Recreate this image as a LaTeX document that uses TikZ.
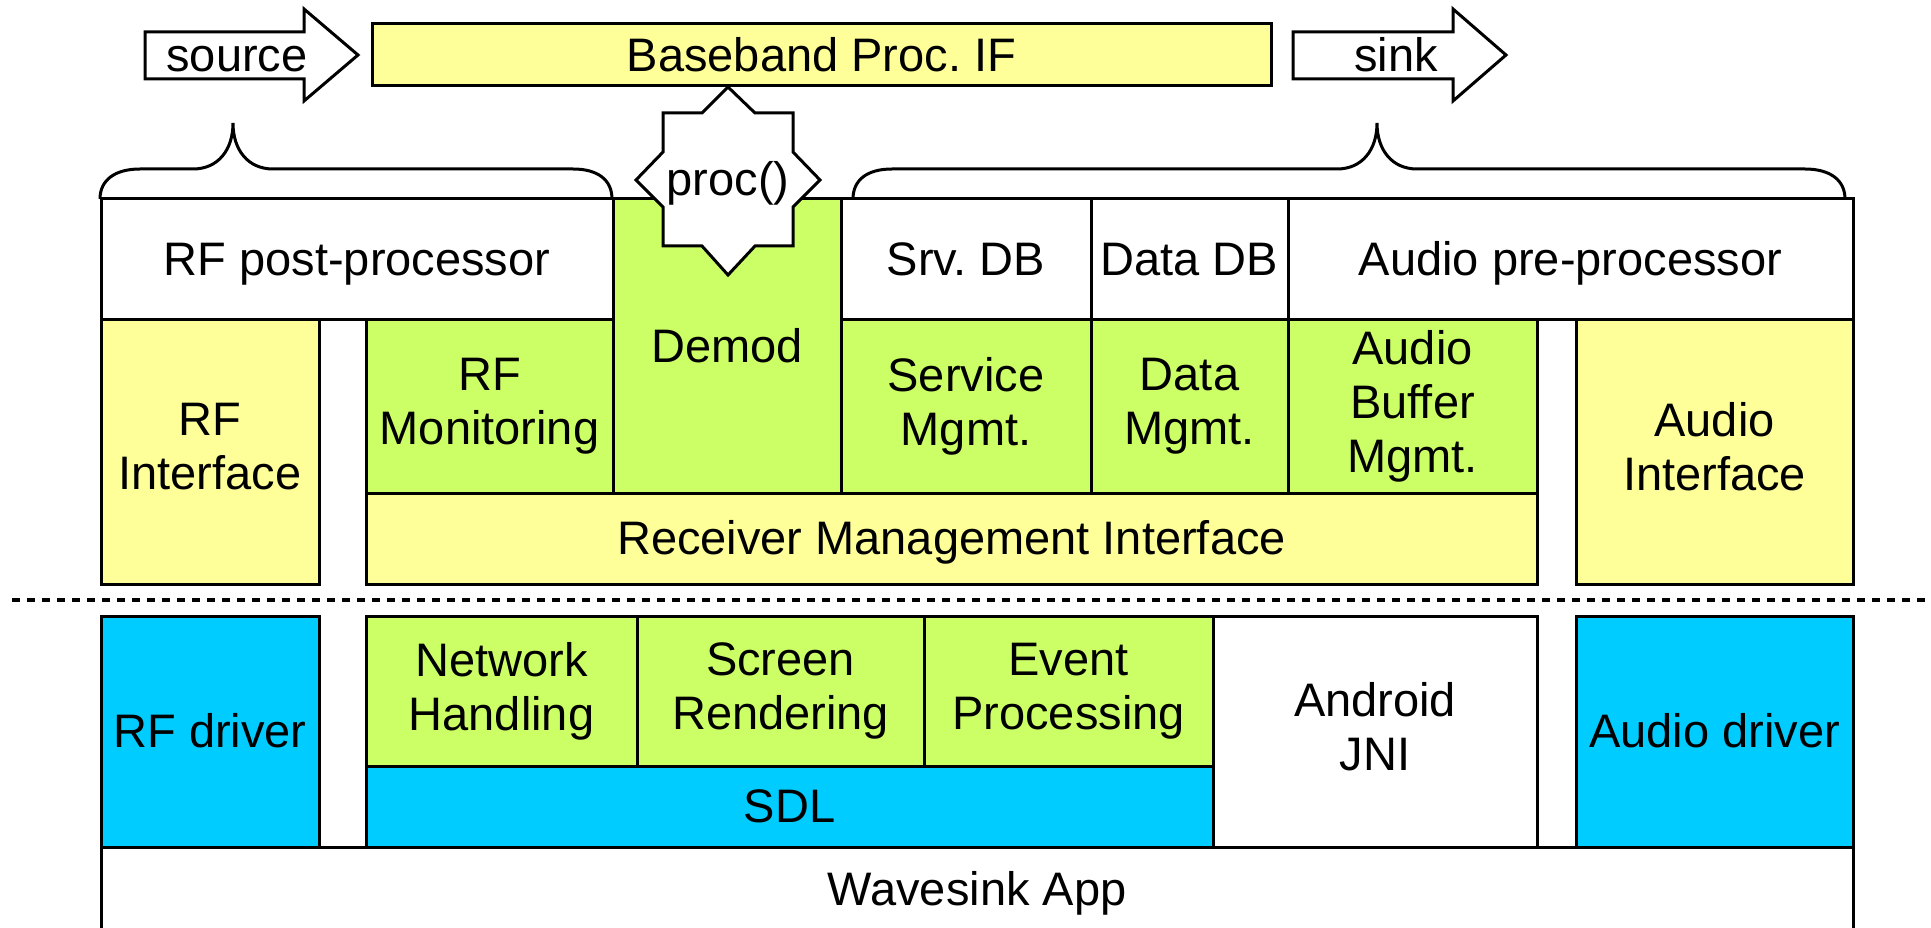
\documentclass[tikz,border=0pt]{standalone}
\usepackage{fontspec}
\setmainfont{Liberation Sans}
\definecolor{ifyellow}{HTML}{FFFF99}
\definecolor{modgreen}{HTML}{CCFF66}
\definecolor{drvblue}{HTML}{00CCFF}
% full line height for box labels
\newcommand{\lnstrut}{\rule[-0.212em]{0pt}{1.117em}}
\tikzset{
  blk/.style={draw, line width=3pt, anchor=north west, inner sep=0pt, outer sep=0pt, align=center,
    execute at begin node=\lnstrut, execute at end node=\lnstrut},
  ifblk/.style={blk, fill=ifyellow},
  modblk/.style={blk, fill=modgreen},
  drvblk/.style={blk, fill=drvblue},
  plainblk/.style={blk, fill=white},
  outl/.style={line width=3pt, line join=miter}
}
\frenchspacing
\begin{document}
\begin{tikzpicture}[x=1pt,y=-1pt,font=\fontsize{47}{54}\selectfont]
\useasboundingbox (0,0) rectangle (1931,928);

% receiver layer
\node[plainblk, minimum width=512, minimum height=120] (rfpost) at (101,199) {RF post-processor};
\node[modblk, minimum width=228, minimum height=294] (demod) at (613,199) {Demod};
\node[plainblk, minimum width=250, minimum height=120] (srvdb) at (841,199) {Srv. DB};
\node[plainblk, minimum width=197, minimum height=120] (datadb) at (1091,199) {Data DB};
\node[plainblk, minimum width=565, minimum height=120] (audpre) at (1288,199) {Audio pre-processor};
\node[ifblk, minimum width=218, minimum height=265] (rfif) at (101,319) {RF\\Interface};
\node[modblk, minimum width=247, minimum height=174] (rfmon) at (366,319) {RF\\Monitoring};
\node[modblk, minimum width=250, minimum height=174] (srvmgmt) at (841,319) {Service\\Mgmt.};
\node[modblk, minimum width=197, minimum height=174] (datamgmt) at (1091,319) {Data\\Mgmt.};
\node[modblk, minimum width=249, minimum height=174] (audbuf) at (1288,319) {Audio\\Buffer\\Mgmt.};
\node[ifblk, minimum width=277, minimum height=265] (audif) at (1576,319) {Audio\\Interface};
\node[ifblk, minimum width=1171, minimum height=91] (rmi) at (366,493) {Receiver Management Interface};

% separator
\draw[line width=3.5pt, dash pattern=on 8pt off 7pt] (12,600) -- (1931,600);

% app layer
\node[drvblk, minimum width=218, minimum height=231] (rfdrv) at (101,616) {RF driver};
\node[modblk, minimum width=271, minimum height=150] (net) at (366,616) {Network\\Handling};
\node[modblk, minimum width=287, minimum height=150] (screen) at (637,616) {Screen\\Rendering};
\node[modblk, minimum width=289, minimum height=150] (event) at (924,616) {Event\\Processing};
\node[drvblk, minimum width=847, minimum height=81] (sdl) at (366,766) {SDL};
\node[plainblk, minimum width=324, minimum height=231] (jni) at (1213,616) {Android\\JNI};
\node[drvblk, minimum width=277, minimum height=231] (auddrv) at (1576,616) {Audio driver};
\draw[outl, fill=white] (101,940) -- (101,847) -- (1853,847) -- (1853,940);
\node[anchor=base] (app) at (977,905) {Wavesink App};

% source / sink arrows and baseband interface
\draw[outl, fill=white] (145,32) -- (304,32) -- (304,9) -- (358,55) -- (304,101) -- (304,79) -- (145,79) -- cycle;
\node[anchor=base] (source) at (237,72) {source};
\node[ifblk, minimum width=899, minimum height=62] (bbif) at (372,24) {Baseband Proc. IF};
\draw[outl, fill=white] (1293,32) -- (1453,32) -- (1453,9) -- (1506,55) -- (1453,101) -- (1453,79) -- (1293,79) -- cycle;
\node[anchor=base] (sink) at (1396,72) {sink};

% braces
\draw[line width=3pt] (100,199) .. controls (100,180) and (115,169) .. (140,169) -- (193,169)
  .. controls (218,169) and (233,150) .. (233,123) .. controls (233,150) and (248,169) .. (273,169)
  -- (573,169) .. controls (598,169) and (612,180) .. (612,199);
\draw[line width=3pt] (853,199) .. controls (853,180) and (867,169) .. (892,169) -- (1337,169)
  .. controls (1362,169) and (1377,150) .. (1377,123) .. controls (1377,150) and (1392,169) .. (1417,169)
  -- (1805,169) .. controls (1830,169) and (1845,180) .. (1845,199);

% proc() star
\draw[outl, fill=white] (728,87) -- (755,113) -- (793,113) -- (793,152) -- (820,180) -- (793,207)
  -- (793,246) -- (755,246) -- (728,275) -- (702,246) -- (663,246) -- (663,207) -- (636,180)
  -- (663,152) -- (663,113) -- (702,113) -- cycle;
\node[anchor=base] (proc) at (728,196) {proc()};
\end{tikzpicture}
\end{document}
